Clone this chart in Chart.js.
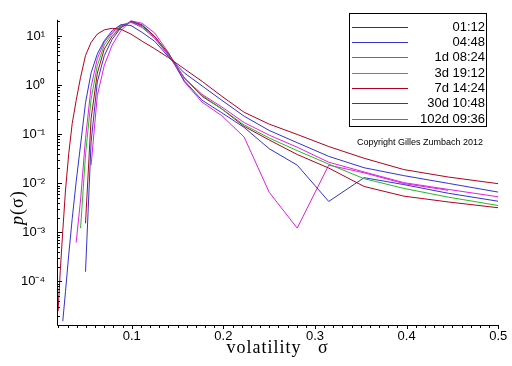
<!DOCTYPE html>
<html>
<head>
<meta charset="utf-8">
<script src="https://cdn.jsdelivr.net/npm/chart.js@4.4.1/dist/chart.umd.min.js"></script>
<style>
  html, body { margin: 0; padding: 0; background: #fff; }
</style>
</head>
<body>
<canvas id="chart" width="512" height="366"></canvas>
<script>
// volatility grid (sigma) shared by all curves
const sigma = [0.0197, 0.0221, 0.0248, 0.0278, 0.0313, 0.0351, 0.0394, 0.0442, 0.0496, 0.0557,
               0.0625, 0.0701, 0.0787, 0.0884, 0.0992, 0.1114, 0.1250, 0.1403, 0.1575, 0.1768,
               0.1984, 0.2227, 0.2500, 0.2806, 0.3150, 0.3536, 0.3969, 0.4454, 0.5000];

// p(sigma) for each time horizon
const p01h12 = [2.5e-5, 1.7e-4, 1.07e-3, 7.3e-3, 0.040, 0.165, 0.483, 1.43, 4.0, 7.4,
                10.9, 13.3, 14.3, 13.6, 10.9, 7.8, 5.5, 3.6, 2.13, 1.19,
                0.59, 0.279, 0.160, 0.0986, 0.056, 0.0323, 0.019, 0.0134, 0.0098];
const p04h48 = [null, null, 1.55e-5, 6.3e-5, 3.5e-4, 1.9e-3, 0.0107, 0.060, 0.435, 1.77,
                4.3, 8.0, 12.8, 17.0, 16.3, 11.8, 7.8, 3.75, 1.76, 0.96,
                0.488, 0.232, 0.119, 0.067, 0.0353, 0.0207, 0.0143, 0.00996, 0.0066];
const p1d = [null, null, null, null, null, null, 6.2e-4, 4.56e-3, 0.081, 0.925,
             3.45, 7.5, 11.8, 16.6, 19.1, 14.8, 8.97, 3.96, 1.39, 0.644,
             0.357, 0.172, 0.0955, 0.0542, 0.0268, 0.0170, 0.0103, 0.0075, 0.0053];
const p3d = [null, null, null, null, null, null, null, 1.22e-3, 0.0378, 0.513,
             2.51, 6.53, 11.0, 15.8, 19.0, 15.5, 9.4, 4.14, 1.39, 0.615,
             0.326, 0.154, 0.0834, 0.0462, 0.0245, 0.0124, 0.00786, 0.00522, 0.00352];
const p7d = [null, null, null, null, null, null, null, null, 1.53e-3, 0.207,
             1.75, 5.44, 9.82, 15.1, 19.4, 16.2, 9.82, 4.34, 1.39, 0.588,
             0.326, 0.144, 0.0762, 0.0385, 0.0204, 0.0086, 0.00547, 0.00416, 0.00317];
const p30d = [null, null, null, null, null, null, null, null, 1.58e-4, 0.0695,
              1.16, 3.96, 8.57, 14.8, 19.9, 16.9, 9.82, 4.14, 1.22, 0.490,
              0.272, 0.137, 0.0506, 0.0234, 0.00426, 0.0130, 0.0094, 0.00626, 0.0043];
const p102d = [null, null, null, null, null, null, null, null, null, 0.0234,
               0.615, 2.51, 6.53, 12.9, 20.3, 18.1, 11.5, 4.54, 1.16, 0.448,
               0.237, 0.0873, 0.00656, 1.22e-3, 0.0234, 0.0163, 0.00986, 0.00718, null];

const seriesLabels = ["01:12", "04:48", "1d 08:24", "3d 19:12", "7d 14:24", "30d 10:48", "102d 09:36"];
const seriesValues = [p01h12, p04h48, p1d, p3d, p7d, p30d, p102d];
const seriesColors = ["#b00020", "#3333cc", "#e020e0", "#22bb22", "#b00020", "#3333cc", "#e020e0"];

const xLabelTicks = [0.1, 0.2, 0.3, 0.4, 0.5];
const yDecades = [-5, -4, -3, -2, -1, 0, 1];
const supers = { "-": "\u207b", "0": "\u2070", "1": "\u00b9", "2": "\u00b2", "3": "\u00b3", "4": "\u2074" };

const X_MIN = 0.0185, X_MAX = 0.5;
const Y_MIN = 1.3e-5, Y_MAX = 21.3;

const datasets = seriesValues.map((vals, k) => ({
  label: seriesLabels[k],
  data: sigma.map((x, i) => ({ x, y: vals[i] })).filter(p => p.y !== null),
  borderColor: seriesColors[k],
  borderWidth: 1,
  pointRadius: 0,
  fill: false,
  tension: 0,
}));

// axes, inward/outward tick marks, axis titles, legend box and note
const overlayPlugin = {
  id: "overlay",
  afterDraw(chart) {
    const ctx = chart.ctx;
    const { left, right, top, bottom } = chart.chartArea;
    const xs = chart.scales.x, ys = chart.scales.y;
    ctx.save();
    ctx.strokeStyle = "#000";
    ctx.lineWidth = 1;

    ctx.beginPath();
    ctx.moveTo(left + 0.5, top); ctx.lineTo(left + 0.5, bottom + 0.5);
    ctx.lineTo(right, bottom + 0.5);
    ctx.stroke();

    ys.ticks.forEach(t => {
      const y = Math.round(ys.getPixelForValue(t.value)) + 0.5;
      const len = t.isMajor ? 5 : 3;
      ctx.beginPath(); ctx.moveTo(left, y); ctx.lineTo(left + len, y); ctx.stroke();
    });
    xs.ticks.forEach(t => {
      const x = Math.round(xs.getPixelForValue(t.value)) + 0.5;
      const len = t.isMajor ? 4 : 3;
      ctx.beginPath(); ctx.moveTo(x, bottom); ctx.lineTo(x, bottom + len); ctx.stroke();
    });

    // axis titles
    ctx.fillStyle = "#000";
    ctx.textAlign = "center";
    ctx.textBaseline = "alphabetic";
    ctx.font = '18px "Liberation Serif", "Times New Roman", serif';
    if ("letterSpacing" in ctx) ctx.letterSpacing = "1px";
    ctx.fillText("volatility   \u03c3", (left + right) / 2, 353);
    ctx.save();
    ctx.translate(23, 210);
    ctx.rotate(-Math.PI / 2);
    ctx.font = 'italic 18px "Liberation Serif", "Times New Roman", serif';
    ctx.fillText("p", -10, 0);
    ctx.font = '18px "Liberation Serif", "Times New Roman", serif';
    ctx.textAlign = "left";
    ctx.fillText("(\u03c3)", -5, 0);
    ctx.restore();
    if ("letterSpacing" in ctx) ctx.letterSpacing = "0px";

    // legend
    ctx.strokeRect(349.5, 13.5, 137, 113);
    ctx.font = '13px "Liberation Sans", Arial, sans-serif';
    ctx.textAlign = "right";
    ctx.textBaseline = "middle";
    chart.data.datasets.forEach((ds, i) => {
      const y = Math.round(26.7 + i * 15.3) + 0.5;
      ctx.strokeStyle = ds.borderColor;
      ctx.beginPath(); ctx.moveTo(352, y); ctx.lineTo(408, y); ctx.stroke();
      ctx.fillText(ds.label, 485, y);
    });

    ctx.font = '9px "Liberation Sans", Arial, sans-serif';
    ctx.textAlign = "center";
    ctx.fillText("Copyright Gilles Zumbach 2012", 420, 143);
    ctx.restore();
  }
};

const tickFont = { family: '"Liberation Sans", Arial, sans-serif', size: 13 };

new Chart(document.getElementById("chart"), {
  type: "line",
  data: { datasets },
  plugins: [overlayPlugin],
  options: {
    responsive: false,
    animation: false,
    events: [],
    layout: { padding: { left: 0, top: 10, right: 512 - 498.3, bottom: 0 } },
    plugins: { legend: { display: false }, tooltip: { enabled: false } },
    scales: {
      x: {
        type: "linear",
        min: X_MIN, max: X_MAX,
        grid: { display: false, drawTicks: false },
        border: { display: false },
        afterBuildTicks(scale) {
          const ticks = [];
          for (let k = 2; k <= 50; k++) {
            const v = k / 100;
            ticks.push({ value: v, isMajor: xLabelTicks.some(t => Math.abs(t - v) < 1e-9) });
          }
          scale.ticks = ticks;
        },
        afterFit(scale) { scale.height = 41; },
        ticks: {
          autoSkip: false, maxRotation: 0, minRotation: 0, padding: 4,
          color: "#000", font: tickFont,
          callback: (v) => xLabelTicks.some(t => Math.abs(t - v) < 1e-9) ? String(Math.round(v * 10) / 10) : "",
        },
      },
      y: {
        type: "logarithmic",
        min: Y_MIN, max: Y_MAX,
        grid: { display: false, drawTicks: false },
        border: { display: false },
        afterBuildTicks(scale) {
          const ticks = [];
          yDecades.forEach(e => {
            for (let m = 1; m <= 9; m++) {
              const v = m * Math.pow(10, e);
              if (v >= Y_MIN && v <= Y_MAX) ticks.push({ value: v, isMajor: m === 1, exp: e });
            }
          });
          scale.ticks = ticks;
        },
        afterFit(scale) { scale.width = 57; },
        ticks: {
          autoSkip: false, padding: 12,
          color: "#000", font: tickFont,
          callback: function (v, i, ticks) {
            const t = ticks[i];
            if (!t.isMajor) return "";
            return "10" + String(t.exp).split("").map(c => supers[c]).join("");
          },
        },
      },
    },
  },
});
</script>
</body>
</html>
